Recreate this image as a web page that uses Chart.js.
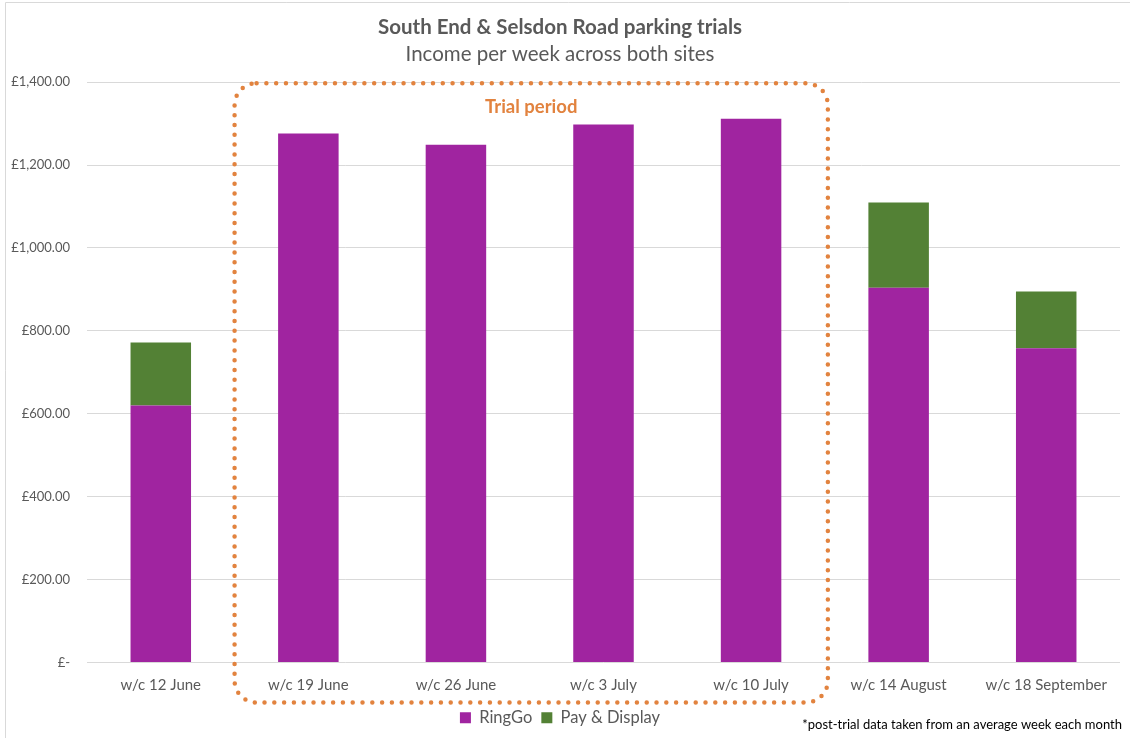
<!DOCTYPE html>
<html>
<head>
<meta charset="utf-8">
<script src="https://cdn.jsdelivr.net/npm/chart.js@4/dist/chart.umd.min.js"></script>
<style>
  html, body { margin: 0; padding: 0; background: #fff; }
  #wrap { width: 1130px; height: 738px; }
</style>
</head>
<body>
<div id="wrap"><canvas id="grafica" width="1130" height="738"></canvas></div>
<script>
"use strict";
const semanas = ["w/c 12 June", "w/c 19 June", "w/c 26 June", "w/c 3 July", "w/c 10 July", "w/c 14 August", "w/c 18 September"];
const ringGo = [620, 1276, 1249, 1298, 1312, 904, 758];
const payDisplay = [152, 0, 0, 0, 0, 206, 137];
const yTicks = [0, 200, 400, 600, 800, 1000, 1200, 1400];
const trialStart = 1, trialEnd = 4;   // indices of the trial weeks

const fuente = "Lato, 'Open Sans', sans-serif";
const gris = "#595959";
const naranja = "#E2833F";

const money = (v) => v === 0 ? "£-" : "£" + v.toLocaleString("en-GB", { minimumFractionDigits: 2, maximumFractionDigits: 2 });

// dotted box round the trial weeks, the label and the footnote
const extras = {
    id: "extras",
    afterDraw(chart) {
        const { ctx, scales: { x, y } } = chart;
        const step = x.getPixelForValue(1) - x.getPixelForValue(0);
        const left = x.getPixelForValue(trialStart) - step / 2;
        const right = x.getPixelForValue(trialEnd) + step / 2 + 3;
        const top = y.getPixelForValue(1400) + 1;
        const bottom = x.bottom + 2;
        ctx.save();
        // outer frame
        ctx.strokeStyle = "#d9d9d9";
        ctx.lineWidth = 1;
        ctx.beginPath();
        ctx.moveTo(5.5, 740);
        ctx.lineTo(5.5, 2.5);
        ctx.lineTo(1135, 2.5);
        ctx.stroke();

        ctx.strokeStyle = naranja;
        ctx.lineWidth = 4.5;
        ctx.lineCap = "round";
        ctx.setLineDash([0, 9.8]);
        ctx.beginPath();
        ctx.roundRect(left, top, right - left, bottom - top, 22);
        ctx.stroke();
        ctx.setLineDash([]);

        ctx.fillStyle = naranja;
        ctx.font = `bold 18.5px ${fuente}`;
        ctx.textAlign = "center";
        ctx.textBaseline = "middle";
        ctx.fillText("Trial period", (left + right) / 2, top + 24);

        ctx.fillStyle = "#000";
        ctx.font = `13px ${fuente}`;
        ctx.textAlign = "right";
        ctx.fillText("*post-trial data taken from an average week each month", 1122, 725);
        ctx.restore();
    }
};

new Chart(document.querySelector("#grafica"), {
    type: "bar",
    data: {
        labels: semanas,
        datasets: [
            { label: "RingGo", data: ringGo, backgroundColor: "#A024A0" },
            { label: "Pay & Display", data: payDisplay, backgroundColor: "#538135" }
        ]
    },
    options: {
        responsive: false,
        animation: false,
        layout: { padding: { left: 0, right: 10, top: 0, bottom: 2 } },
        datasets: { bar: { categoryPercentage: 1, barPercentage: 0.41 } },
        scales: {
            x: {
                stacked: true,
                grid: { display: false, drawTicks: false },
                border: { display: false },
                ticks: { color: gris, font: { family: fuente, size: 15 }, padding: 14, maxRotation: 0 },
                afterFit: (s) => { s.height = 38; }
            },
            y: {
                stacked: true,
                min: 0,
                max: 1400,
                afterBuildTicks: (s) => { s.ticks = yTicks.map(v => ({ value: v })); },
                grid: { color: "#d9d9d9", drawTicks: false },
                border: { display: false },
                ticks: { color: gris, font: { family: fuente, size: 13 }, padding: 17, callback: (v) => money(v) },
                afterFit: (s) => { s.width = 87; }
            }
        },
        plugins: {
            title: {
                display: true,
                text: "South End & Selsdon Road parking trials",
                color: gris,
                font: { family: fuente, size: 20.5, weight: "bold" },
                padding: { top: 15, bottom: 0 }
            },
            subtitle: {
                display: true,
                text: "Income per week across both sites",
                color: gris,
                font: { family: fuente, size: 20.5 },
                padding: { top: 2, bottom: 16 }
            },
            legend: {
                position: "bottom",
                labels: { color: gris, font: { family: fuente, size: 16.5 }, boxWidth: 11, boxHeight: 11, padding: 9 }
            },
            tooltip: { enabled: false }
        }
    },
    plugins: [extras]
});
</script>
</body>
</html>
